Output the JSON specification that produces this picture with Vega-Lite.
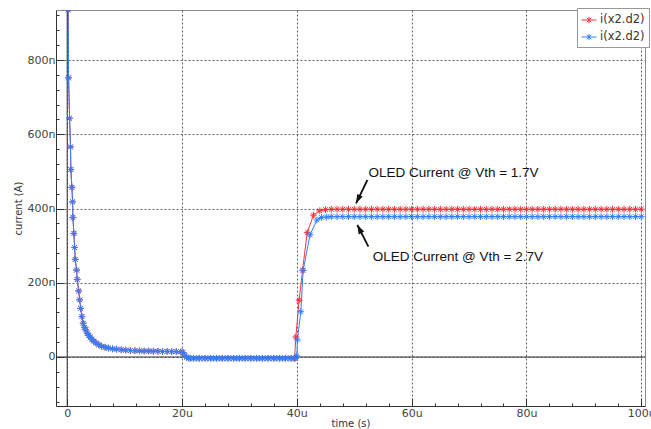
{
  "$schema": "https://vega.github.io/schema/vega-lite/v6.json",
  "width": 589,
  "height": 396,
  "autosize": {"type": "none"},
  "padding": {"left": 56, "top": 10, "right": 6, "bottom": 23},
  "background": "white",
  "config": {
    "view": {"stroke": "#8a8a8a", "strokeWidth": 1},
    "font": "DejaVu Sans"
  },
  "resolve": {"axis": {"x": "independent", "y": "independent"}},
  "datasets": {
    "curves": [
      {"s":"r","t":0,"i":1150},{"s":"r","t":0.17,"i":935},{"s":"r","t":0.24,"i":752},{"s":"r","t":0.42,"i":643},{"s":"r","t":0.58,"i":566},{"s":"r","t":0.64,"i":505},{"s":"r","t":0.82,"i":457},{"s":"r","t":0.94,"i":418},{"s":"r","t":0.99,"i":376},{"s":"r","t":1.17,"i":333},{"s":"r","t":1.29,"i":295},{"s":"r","t":1.4,"i":263},{"s":"r","t":1.64,"i":234},{"s":"r","t":1.75,"i":209},{"s":"r","t":2.0,"i":178},{"s":"r","t":2.17,"i":154},{"s":"r","t":2.35,"i":131},{"s":"r","t":2.56,"i":109},{"s":"r","t":2.79,"i":91},{"s":"r","t":3.0,"i":80},{"s":"r","t":3.25,"i":73},{"s":"r","t":3.5,"i":64},{"s":"r","t":3.75,"i":58},{"s":"r","t":4.0,"i":53},{"s":"r","t":4.3,"i":48},{"s":"r","t":4.6,"i":43},{"s":"r","t":5.0,"i":38},{"s":"r","t":5.5,"i":33},{"s":"r","t":6.0,"i":29},{"s":"r","t":6.6,"i":26},{"s":"r","t":7.2,"i":24},{"s":"r","t":7.9,"i":22},{"s":"r","t":8.6,"i":21},{"s":"r","t":9.4,"i":19.5},{"s":"r","t":10.2,"i":18.5},{"s":"r","t":11.0,"i":17.5},{"s":"r","t":11.8,"i":17},{"s":"r","t":12.6,"i":16.5},{"s":"r","t":13.4,"i":16},{"s":"r","t":14.2,"i":16},{"s":"r","t":15.0,"i":15.5},{"s":"r","t":15.8,"i":15.5},{"s":"r","t":16.6,"i":15},{"s":"r","t":17.4,"i":15},{"s":"r","t":18.2,"i":14.5},{"s":"r","t":19.0,"i":14.5},{"s":"r","t":19.8,"i":14},{"s":"r","t":20.2,"i":12},{"s":"r","t":20.5,"i":4},{"s":"r","t":20.8,"i":-1},{"s":"r","t":21.2,"i":-3},
      {"s":"r","t":22,"i":-3.5},{"s":"r","t":23,"i":-3.5},{"s":"r","t":24,"i":-3.5},{"s":"r","t":25,"i":-3.5},{"s":"r","t":26,"i":-3.5},{"s":"r","t":27,"i":-3.5},{"s":"r","t":28,"i":-3.5},{"s":"r","t":29,"i":-3.5},{"s":"r","t":30,"i":-3.5},{"s":"r","t":31,"i":-3.5},{"s":"r","t":32,"i":-3.5},{"s":"r","t":33,"i":-3.5},{"s":"r","t":34,"i":-3.5},{"s":"r","t":35,"i":-3.5},{"s":"r","t":36,"i":-3.5},{"s":"r","t":37,"i":-3.5},{"s":"r","t":38,"i":-3.5},{"s":"r","t":39,"i":-3.5},
      {"s":"r","t":39.6,"i":-3.5},{"s":"r","t":39.83,"i":54},{"s":"r","t":40.4,"i":153},{"s":"r","t":41.0,"i":234},{"s":"r","t":41.8,"i":335},{"s":"r","t":42.9,"i":382},{"s":"r","t":44.0,"i":394},{"s":"r","t":45.0,"i":397},
      {"s":"r","t":46,"i":398},{"s":"r","t":47,"i":398},{"s":"r","t":48,"i":398},{"s":"r","t":49,"i":398},{"s":"r","t":50,"i":398},{"s":"r","t":51,"i":398},{"s":"r","t":52,"i":398},{"s":"r","t":53,"i":398},{"s":"r","t":54,"i":398},{"s":"r","t":55,"i":398},{"s":"r","t":56,"i":398},{"s":"r","t":57,"i":398},{"s":"r","t":58,"i":398},{"s":"r","t":59,"i":398},{"s":"r","t":60,"i":398},{"s":"r","t":61,"i":398},{"s":"r","t":62,"i":398},{"s":"r","t":63,"i":398},{"s":"r","t":64,"i":398},{"s":"r","t":65,"i":398},{"s":"r","t":66,"i":398},{"s":"r","t":67,"i":398},{"s":"r","t":68,"i":398},{"s":"r","t":69,"i":398},{"s":"r","t":70,"i":398},{"s":"r","t":71,"i":398},{"s":"r","t":72,"i":398},{"s":"r","t":73,"i":398},{"s":"r","t":74,"i":398},{"s":"r","t":75,"i":398},{"s":"r","t":76,"i":398},{"s":"r","t":77,"i":398},{"s":"r","t":78,"i":398},{"s":"r","t":79,"i":398},{"s":"r","t":80,"i":398},{"s":"r","t":81,"i":398},{"s":"r","t":82,"i":398},{"s":"r","t":83,"i":398},{"s":"r","t":84,"i":398},{"s":"r","t":85,"i":398},{"s":"r","t":86,"i":398},{"s":"r","t":87,"i":398},{"s":"r","t":88,"i":398},{"s":"r","t":89,"i":398},{"s":"r","t":90,"i":398},{"s":"r","t":91,"i":398},{"s":"r","t":92,"i":398},{"s":"r","t":93,"i":398},{"s":"r","t":94,"i":398},{"s":"r","t":95,"i":398},{"s":"r","t":96,"i":398},{"s":"r","t":97,"i":398},{"s":"r","t":98,"i":398},{"s":"r","t":99,"i":398},{"s":"r","t":100,"i":398},
      {"s":"b","t":0,"i":1150},{"s":"b","t":0.17,"i":935},{"s":"b","t":0.24,"i":752},{"s":"b","t":0.42,"i":643},{"s":"b","t":0.58,"i":566},{"s":"b","t":0.64,"i":505},{"s":"b","t":0.82,"i":457},{"s":"b","t":0.94,"i":418},{"s":"b","t":0.99,"i":376},{"s":"b","t":1.17,"i":333},{"s":"b","t":1.29,"i":295},{"s":"b","t":1.4,"i":263},{"s":"b","t":1.64,"i":234},{"s":"b","t":1.75,"i":209},{"s":"b","t":2.0,"i":178},{"s":"b","t":2.17,"i":154},{"s":"b","t":2.35,"i":131},{"s":"b","t":2.56,"i":109},{"s":"b","t":2.79,"i":91},{"s":"b","t":3.0,"i":80},{"s":"b","t":3.25,"i":73},{"s":"b","t":3.5,"i":64},{"s":"b","t":3.75,"i":58},{"s":"b","t":4.0,"i":53},{"s":"b","t":4.3,"i":48},{"s":"b","t":4.6,"i":43},{"s":"b","t":5.0,"i":38},{"s":"b","t":5.5,"i":33},{"s":"b","t":6.0,"i":29},{"s":"b","t":6.6,"i":26},{"s":"b","t":7.2,"i":24},{"s":"b","t":7.9,"i":22},{"s":"b","t":8.6,"i":21},{"s":"b","t":9.4,"i":19.5},{"s":"b","t":10.2,"i":18.5},{"s":"b","t":11.0,"i":17.5},{"s":"b","t":11.8,"i":17},{"s":"b","t":12.6,"i":16.5},{"s":"b","t":13.4,"i":16},{"s":"b","t":14.2,"i":16},{"s":"b","t":15.0,"i":15.5},{"s":"b","t":15.8,"i":15.5},{"s":"b","t":16.6,"i":15},{"s":"b","t":17.4,"i":15},{"s":"b","t":18.2,"i":14.5},{"s":"b","t":19.0,"i":14.5},{"s":"b","t":19.8,"i":14},{"s":"b","t":20.2,"i":12},{"s":"b","t":20.5,"i":4},{"s":"b","t":20.8,"i":-1},{"s":"b","t":21.2,"i":-3},
      {"s":"b","t":21.5,"i":-3.5},{"s":"b","t":22,"i":-3.5},{"s":"b","t":22.5,"i":-3.5},{"s":"b","t":23,"i":-3.5},{"s":"b","t":23.5,"i":-3.5},{"s":"b","t":24,"i":-3.5},{"s":"b","t":24.5,"i":-3.5},{"s":"b","t":25,"i":-3.5},{"s":"b","t":25.5,"i":-3.5},{"s":"b","t":26,"i":-3.5},{"s":"b","t":26.5,"i":-3.5},{"s":"b","t":27,"i":-3.5},{"s":"b","t":27.5,"i":-3.5},{"s":"b","t":28,"i":-3.5},{"s":"b","t":28.5,"i":-3.5},{"s":"b","t":29,"i":-3.5},{"s":"b","t":29.5,"i":-3.5},{"s":"b","t":30,"i":-3.5},{"s":"b","t":30.5,"i":-3.5},{"s":"b","t":31,"i":-3.5},{"s":"b","t":31.5,"i":-3.5},{"s":"b","t":32,"i":-3.5},{"s":"b","t":32.5,"i":-3.5},{"s":"b","t":33,"i":-3.5},{"s":"b","t":33.5,"i":-3.5},{"s":"b","t":34,"i":-3.5},{"s":"b","t":34.5,"i":-3.5},{"s":"b","t":35,"i":-3.5},{"s":"b","t":35.5,"i":-3.5},{"s":"b","t":36,"i":-3.5},{"s":"b","t":36.5,"i":-3.5},{"s":"b","t":37,"i":-3.5},{"s":"b","t":37.5,"i":-3.5},{"s":"b","t":38,"i":-3.5},{"s":"b","t":38.5,"i":-3.5},{"s":"b","t":39,"i":-3.5},{"s":"b","t":39.5,"i":-3.5},
      {"s":"b","t":39.8,"i":-3.5},{"s":"b","t":40.0,"i":3},{"s":"b","t":40.1,"i":46},{"s":"b","t":40.7,"i":122},{"s":"b","t":41.1,"i":233},{"s":"b","t":42.3,"i":329},{"s":"b","t":43.5,"i":369},{"s":"b","t":44.3,"i":376},{"s":"b","t":45.2,"i":377},
      {"s":"b","t":46,"i":378},{"s":"b","t":47,"i":378},{"s":"b","t":48,"i":378},{"s":"b","t":49,"i":378},{"s":"b","t":50,"i":378},{"s":"b","t":51,"i":378},{"s":"b","t":52,"i":378},{"s":"b","t":53,"i":378},{"s":"b","t":54,"i":378},{"s":"b","t":55,"i":378},{"s":"b","t":56,"i":378},{"s":"b","t":57,"i":378},{"s":"b","t":58,"i":378},{"s":"b","t":59,"i":378},{"s":"b","t":60,"i":378},{"s":"b","t":61,"i":378},{"s":"b","t":62,"i":378},{"s":"b","t":63,"i":378},{"s":"b","t":64,"i":378},{"s":"b","t":65,"i":378},{"s":"b","t":66,"i":378},{"s":"b","t":67,"i":378},{"s":"b","t":68,"i":378},{"s":"b","t":69,"i":378},{"s":"b","t":70,"i":378},{"s":"b","t":71,"i":378},{"s":"b","t":72,"i":378},{"s":"b","t":73,"i":378},{"s":"b","t":74,"i":378},{"s":"b","t":75,"i":378},{"s":"b","t":76,"i":378},{"s":"b","t":77,"i":378},{"s":"b","t":78,"i":378},{"s":"b","t":79,"i":378},{"s":"b","t":80,"i":378},{"s":"b","t":81,"i":378},{"s":"b","t":82,"i":378},{"s":"b","t":83,"i":378},{"s":"b","t":84,"i":378},{"s":"b","t":85,"i":378},{"s":"b","t":86,"i":378},{"s":"b","t":87,"i":378},{"s":"b","t":88,"i":378},{"s":"b","t":89,"i":378},{"s":"b","t":90,"i":378},{"s":"b","t":91,"i":378},{"s":"b","t":92,"i":378},{"s":"b","t":93,"i":378},{"s":"b","t":94,"i":378},{"s":"b","t":95,"i":378},{"s":"b","t":96,"i":378},{"s":"b","t":97,"i":378},{"s":"b","t":98,"i":378},{"s":"b","t":99,"i":378},{"s":"b","t":100,"i":378}
    ],
    "zero": [{"v": 0}],
    "arrows": [
      {"id":"a1","t1":52.29,"n1":476.8,"t2":50.32,"n2":414.0},
      {"id":"a2","t1":52.47,"n1":297.1,"t2":50.55,"n2":355.6}
    ],
    "notes": [
      {"t":52.47,"n":485.7,"label":"OLED Current @ Vth = 1.7V"},
      {"t":53.23,"n":259.4,"label":"OLED Current @ Vth = 2.7V"}
    ]
  },
  "layer": [
    {
      "data": {"name": "curves"},
      "mark": {"type": "line", "strokeWidth": 1, "clip": true},
      "encoding": {
        "x": {
          "field": "t", "type": "quantitative",
          "scale": {"domain": [-1.95, 100.65], "nice": false, "zero": false},
          "axis": {
            "title": "time (s)",
            "orient": "bottom",
            "values": [0, 20, 40, 60, 80, 100],
            "labelExpr": "datum.value === 0 ? '0' : datum.value + 'u'",
            "tickSize": -8,
            "tickColor": "#333",
            "grid": true,
            "gridDash": [2, 2],
            "gridColor": "#666",
            "gridOpacity": 1,
            "domainColor": "#333",
            "labelFont": "DejaVu Sans", "labelFontSize": 11, "labelColor": "#444",
            "labelPadding": 9, "labelFlush": false, "labelOverlap": false, "labelBound": false,
            "titleFont": "DejaVu Sans", "titleFontSize": 10, "titleFontWeight": "normal", "titleColor": "#333",
            "titlePadding": 0
          }
        },
        "y": {
          "field": "i", "type": "quantitative",
          "scale": {"domain": [-132, 934.7], "nice": false, "zero": false},
          "axis": {
            "title": "current (A)",
            "orient": "left",
            "values": [0, 200, 400, 600, 800],
            "labelExpr": "datum.value === 0 ? '0' : datum.value + 'n'",
            "tickSize": -8,
            "tickColor": "#333",
            "grid": true,
            "gridDash": [2, 2],
            "gridColor": "#666",
            "gridOpacity": 1,
            "domainColor": "#333",
            "labelFont": "DejaVu Sans", "labelFontSize": 11, "labelColor": "#444",
            "labelPadding": 9, "labelFlush": false, "labelOverlap": false, "labelBound": false,
            "titleFont": "DejaVu Sans", "titleFontSize": 10, "titleFontWeight": "normal", "titleColor": "#333",
            "titlePadding": 4
          }
        },
        "color": {
          "field": "s", "type": "nominal",
          "scale": {"domain": ["r", "b"], "range": ["#ee3340", "#2f80ff"]},
          "legend": {
            "title": null,
            "orient": "none",
            "legendX": 521,
            "legendY": -2,
            "labelExpr": "'i(x2.d2)'",
            "symbolType": "M-1,0H1M-0.3,-0.3L0.3,0.3M-0.3,0.3L0.3,-0.3M0,-0.42V0.42",
            "symbolSize": 225,
            "symbolStrokeWidth": 1,
            "symbolFillColor": "transparent",
            "labelFont": "DejaVu Sans", "labelFontSize": 11.5, "labelColor": "#333",
            "labelOffset": 3,
            "strokeColor": "#999",
            "fillColor": "white",
            "padding": 4,
            "rowPadding": 3
          }
        }
      }
    },
    {
      "data": {"name": "zero"},
      "mark": {"type": "rule", "color": "#333", "strokeWidth": 1},
      "encoding": {
        "y": {"field": "v", "type": "quantitative", "axis": null}
      }
    },
    {
      "data": {"name": "zero"},
      "mark": {"type": "rule", "color": "#333", "strokeWidth": 1},
      "encoding": {
        "x": {"field": "v", "type": "quantitative", "axis": null}
      }
    },
    {
      "data": {"name": "curves"},
      "mark": {"type": "point", "shape": "M-1,0H1M0,-1V1M-0.7,-0.7L0.7,0.7M-0.7,0.7L0.7,-0.7", "filled": false, "size": 45, "strokeWidth": 1, "opacity": 1, "clip": true},
      "encoding": {
        "x": {"field": "t", "type": "quantitative",
          "axis": {"orient": "bottom", "values": [4,8,12,16,24,28,32,36,44,48,52,56,64,68,72,76,84,88,92,96], "labels": false, "grid": false, "domain": false, "ticks": true, "tickSize": -3, "tickColor": "#333", "title": null}},
        "y": {"field": "i", "type": "quantitative",
          "axis": {"orient": "left", "values": [-120,-80,-40,40,80,120,160,240,280,320,360,440,480,520,560,640,680,720,760,840,880,920], "labels": false, "grid": false, "domain": false, "ticks": true, "tickSize": -3, "tickColor": "#333", "title": null}},
        "color": {"field": "s", "type": "nominal"}
      }
    },
    {
      "data": {"name": "arrows"},
      "mark": {"type": "rule", "color": "#111", "strokeWidth": 1.8},
      "encoding": {
        "x": {"field": "t1", "type": "quantitative", "axis": null},
        "y": {"field": "n1", "type": "quantitative", "axis": null},
        "x2": {"field": "t2"},
        "y2": {"field": "n2"}
      }
    },
    {
      "data": {"name": "arrows"},
      "transform": [{"filter": "datum.id === 'a1'"}],
      "mark": {"type": "point", "shape": "M0,0L0.45,1.3L-0.45,1.3Z", "filled": true, "color": "#111", "size": 190, "angle": 205.9, "opacity": 1},
      "encoding": {
        "x": {"field": "t2", "type": "quantitative", "axis": null},
        "y": {"field": "n2", "type": "quantitative", "axis": null}
      }
    },
    {
      "data": {"name": "arrows"},
      "transform": [{"filter": "datum.id === 'a2'"}],
      "mark": {"type": "point", "shape": "M0,0L0.45,1.3L-0.45,1.3Z", "filled": true, "color": "#111", "size": 190, "angle": 333.1, "opacity": 1},
      "encoding": {
        "x": {"field": "t2", "type": "quantitative", "axis": null},
        "y": {"field": "n2", "type": "quantitative", "axis": null}
      }
    },
    {
      "data": {"name": "notes"},
      "mark": {"type": "text", "align": "left", "baseline": "alphabetic", "font": "Liberation Sans", "fontSize": 13.5, "color": "#111"},
      "encoding": {
        "x": {"field": "t", "type": "quantitative", "axis": null},
        "y": {"field": "n", "type": "quantitative", "axis": null},
        "text": {"field": "label"}
      }
    }
  ]
}
